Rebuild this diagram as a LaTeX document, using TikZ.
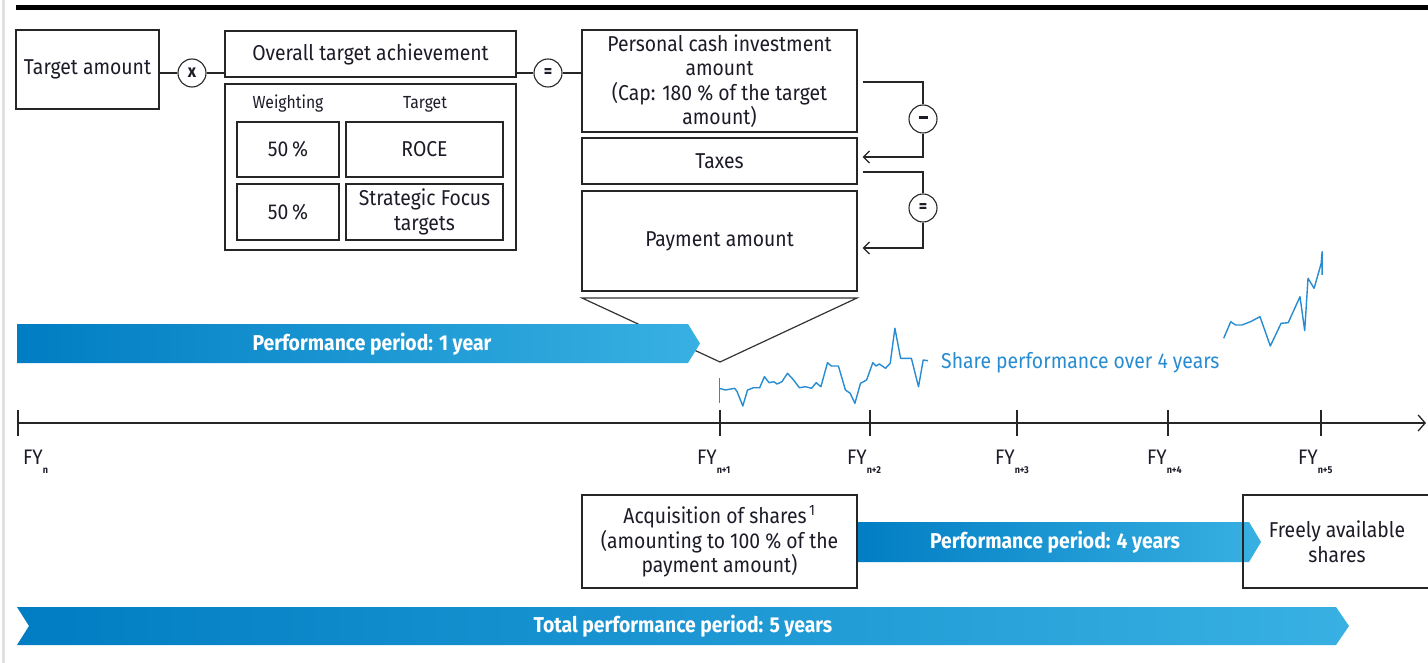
\documentclass[tikz,border=0pt]{standalone}
\usepackage{fontspec}
\setmainfont[FakeStretch=0.9]{Fira Sans}
\usetikzlibrary{arrows.meta}
\definecolor{txt}{RGB}{28,28,40}
\definecolor{bdark}{RGB}{0,125,195}
\definecolor{blight}{RGB}{56,176,226}
\definecolor{sline}{RGB}{40,140,210}
\newcommand{\fysub}[1]{\raisebox{-9pt}{\fontsize{10}{10}\selectfont\bfseries #1}}
\begin{document}
\begin{tikzpicture}[x=1pt,y=-1pt,
  every node/.style={text=txt,font=\fontsize{21.5}{24.5}\selectfont},
  box/.style={draw=black!85,line width=1.3pt,fill=white,align=center,inner sep=0pt},
  op/.style={draw=black!85,line width=1.1pt,circle,minimum size=28pt,inner sep=0pt,fill=white,font=\fontsize{18}{18}\selectfont\bfseries},
  conn/.style={draw=black!85,line width=1.2pt},
  band/.style={line width=0pt},
  bandtxt/.style={text=white,font=\fontsize{21.5}{22}\selectfont\bfseries},
  tick/.style={line width=1.3pt,black!85},
  fy/.style={anchor=west,inner sep=0pt,font=\fontsize{21}{22}\selectfont},
  small/.style={font=\fontsize{17.5}{18}\selectfont}
]
\useasboundingbox (0,0) rectangle (1428,663);
\fill[white] (0,0) rectangle (1428,663);
\draw[line width=3pt,black!12] (3,0) -- (3,663);
\draw[line width=5pt,black] (16,7.5) -- (1428,7.5);

% top row
\node[box,minimum width=143pt,minimum height=79pt] (target) at (87.5,69.5) {Target amount};
\node[op] (times) at (192,73) {x};
\node[box,minimum width=291pt,minimum height=46pt] (overall) at (370.5,54) {Overall target achievement};
\node[box,minimum width=291pt,minimum height=166pt] (inner) at (370.5,167) {};
\node[small] (wlab) at (288,104) {Weighting};
\node[small] (tlab) at (425,104) {Target};
\node[box,minimum width=102pt,minimum height=55pt] (w1) at (288,149.5) {50\,\%};
\node[box,minimum width=157pt,minimum height=55pt] (t1) at (424.5,149.5) {ROCE};
\node[box,minimum width=102pt,minimum height=56pt] (w2) at (288,212) {50\,\%};
\node[box,minimum width=157pt,minimum height=56pt] (t2) at (424.5,212) {Strategic Focus\\targets};
\node[op] (eq) at (548,73) {=};
\node[box,minimum width=275pt,minimum height=102pt] (pers) at (719.5,81) {Personal cash investment\\amount\\(Cap: 180 \% of the target\\amount)};
\node[box,minimum width=275pt,minimum height=46pt] (tax) at (719.5,161) {Taxes};
\node[box,minimum width=275pt,minimum height=100pt] (pay) at (719.5,241) {Payment amount};
\node[op] (minus) at (923,119) {\rule[0.3ex]{9pt}{2.6pt}};
\node[op] (eq2) at (923,208) {=};

\draw[conn] (times.west -| target.east) -- (times.west);
\draw[conn] (times.east) -- (times.east -| overall.west);
\draw[conn] (eq.west -| overall.east) -- (eq.west);
\draw[conn] (eq.east) -- (eq.east -| pers.west);
\coordinate (m1) at ([xshift=5pt,yshift=-1pt]pers.east);
\coordinate (m2) at ([xshift=5pt,yshift=4pt]tax.east);
\coordinate (e1) at ([xshift=5pt,yshift=-11pt]tax.east);
\coordinate (e2) at ([xshift=5pt,yshift=-7pt]pay.east);
\draw[conn] (m1) -| (minus.north);
\draw[conn,-{Straight Barb[length=6pt,width=12pt]}] (minus.south) |- (m2);
\draw[conn] (e1) -| (eq2.north);
\draw[conn,-{Straight Barb[length=6pt,width=12pt]}] (eq2.south) |- (e2);

% funnel
\coordinate (f1) at (582,298);
\coordinate (f2) at (857,298);
\coordinate (fa) at (720,362);
\draw[line width=1.2pt,black!80] (f1) -- (f2) -- (fa) -- cycle;

% 1-year band
\path[band,left color=bdark,middle color=bdark,right color=blight]
  (17,324) -- (688,324) -- (700,343.5) -- (688,363) -- (17,363) -- cycle;
\node[bandtxt] (p1) at (372,344) {Performance period: 1 year};

% timeline
\coordinate (t0) at (18,423);
\coordinate (tend) at (1426,423);
\draw[line width=1.3pt,black!85,-{Straight Barb[length=7pt,width=16pt]}] (t0) -- (tend);
\foreach \x in {18,720,870,1017,1168,1321}{
  \draw[tick] (\x,410) -- (\x,436);
}
\node[fy] (fyn) at (23,462) {FY\fysub{n}};
\node[fy] (fy1) at (697,462) {FY\fysub{n+1}};
\node[fy] (fy2) at (847,462) {FY\fysub{n+2}};
\node[fy] (fy3) at (995,462) {FY\fysub{n+3}};
\node[fy] (fy4) at (1147,462) {FY\fysub{n+4}};
\node[fy] (fy5) at (1298,462) {FY\fysub{n+5}};

% share line
\draw[sline,line width=1.4pt,line join=round] (719.2,378.3) -- (719.2,403.3);
\draw[sline,line width=1.4pt,line join=round]
 (719.2,388.3) -- (725.3,390) -- (734.7,388.3) -- (737.1,391.7) -- (742.8,406) -- (747.5,390) -- (753.6,387.7) -- (759.7,387.7) -- (764.4,376.7) -- (769.1,382.7) -- (773.8,381.7) -- (777.1,384) -- (781.9,381.7) -- (787.5,373.3) -- (793.6,380) -- (799.3,387.7) -- (805.4,386.7) -- (811.5,388.3) -- (816.2,382.7) -- (820.9,386.7) -- (827.5,362.7) -- (831.3,366) -- (838.4,366) -- (845.4,390) -- (850.2,393.3) -- (854.9,403.3) -- (860.5,383.3) -- (866.6,380) -- (872.8,362.7) -- (876.1,366) -- (879.4,364) -- (885.5,368.3) -- (890.2,363.3) -- (894.9,328.3) -- (900.6,358.3) -- (906.7,358.3) -- (911.4,358.3) -- (918.5,386.7) -- (923.2,360) -- (927.9,360.7);
\node[anchor=west,inner sep=0pt,text=sline] (share) at (941,363) {Share performance over 4 years};
\draw[sline,line width=1.4pt,line join=round]
 (1223.7,338.3) -- (1230.7,321.7) -- (1235.5,325) -- (1242,325) -- (1250.5,321.7) -- (1260,316.7) -- (1270.3,346) -- (1281.1,323.3) -- (1288.2,322.7) -- (1300,296.7) -- (1304.7,330.7) -- (1308,278.3) -- (1314.1,288.3) -- (1321.2,263.3) -- (1322.1,251.7) -- (1322.1,275);

% bottom
\path[band,left color=bdark,right color=blight]
  (850,522) -- (1249,522) -- (1261,542) -- (1249,562) -- (850,562) -- cycle;
\node[bandtxt] (p4) at (1055,542) {Performance period: 4 years};
\node[box,minimum width=275pt,minimum height=93pt] (acq) at (719.5,541.5) {Acquisition of shares\textsuperscript{\,1}\\(amounting to 100 \% of the\\payment amount)};
\node[box,minimum width=188pt,minimum height=93pt,fill=none] (free) at (1337,541.5) {Freely available\\shares};

\path[band,left color=bdark,middle color=bdark!70!blight,right color=blight]
  (17,607) -- (1336,607) -- (1349,626) -- (1336,645) -- (17,645) -- (29,626) -- cycle;
\node[bandtxt] (p5) at (683,626) {Total performance period: 5 years};
\end{tikzpicture}
\end{document}
